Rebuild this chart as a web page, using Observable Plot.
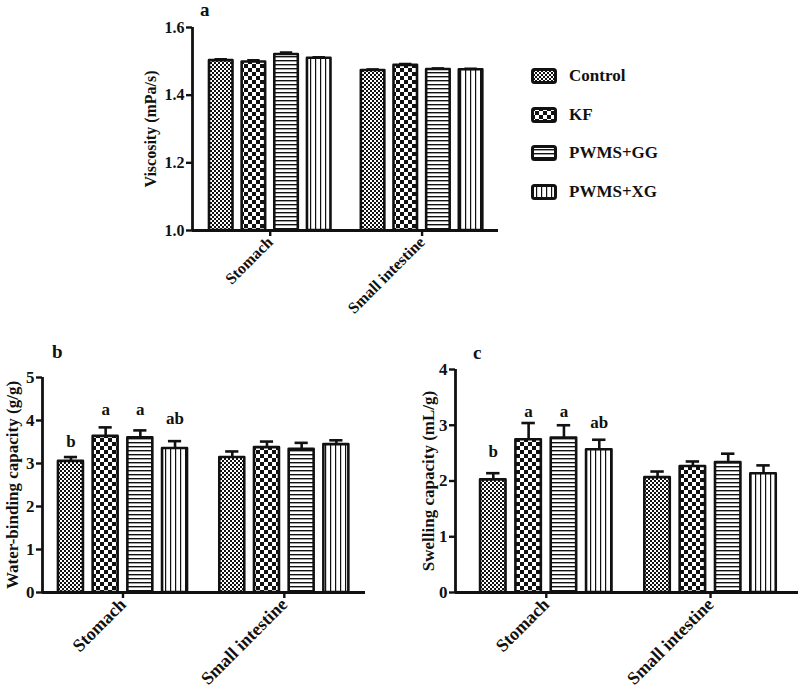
<!DOCTYPE html>
<html><head><meta charset="utf-8">
<script src="https://cdn.jsdelivr.net/npm/d3@7"></script>
<script src="https://cdn.jsdelivr.net/npm/@observablehq/plot@0.6"></script>
<style>
html,body{margin:0;padding:0;background:#fff;overflow:hidden;}
#fig{position:relative;width:800px;height:699px;font-family:"Liberation Serif","Times New Roman",serif;font-weight:bold;color:#111;}
.panel{position:absolute;}
.plab{position:absolute;font-size:19px;font-weight:bold;line-height:1;}
#legend{position:absolute;left:531px;top:57px;}
.li{display:flex;align-items:center;height:38.5px;font-size:17px;}
.li svg{margin-right:12px;}
</style></head>
<body><div id="fig"></div>
<script>
// ---------- data ----------
const treatments = ["Control", "KF", "PWMS+GG", "PWMS+XG"];
const sites = ["Stomach", "Small intestine"];

// panel a: viscosity (mPa/s), order: Stomach x4, Small intestine x4
const viscosity    = [1.502, 1.498, 1.520, 1.509, 1.473, 1.488, 1.476, 1.475];
const viscosityErr = [0.004, 0.005, 0.006, 0.003, 0.003, 0.004, 0.003, 0.003];
const viscosityTicks = [1.0, 1.2, 1.4, 1.6];

// panel b: water-binding capacity (g/g)
const waterBinding    = [3.05, 3.63, 3.60, 3.35, 3.14, 3.37, 3.33, 3.44];
const waterBindingErr = [0.10, 0.21, 0.17, 0.17, 0.14, 0.14, 0.15, 0.10];
const waterBindingTicks = [0, 1, 2, 3, 4, 5];
const waterBindingLetters = ["b", "a", "a", "ab"];
const waterBindingLetterY = [3.52, 4.26, 4.26, 4.05];

// panel c: swelling capacity (mL/g)
const swelling    = [2.02, 2.74, 2.77, 2.56, 2.06, 2.26, 2.33, 2.13];
const swellingErr = [0.12, 0.30, 0.23, 0.18, 0.11, 0.09, 0.16, 0.15];
const swellingTicks = [0, 1, 2, 3, 4];
const swellingLetters = ["b", "a", "a", "ab"];
const swellingLetterY = [2.53, 3.25, 3.25, 3.04];

// ---------- patterns ----------
const patIds = ["pat-control", "pat-kf", "pat-gg", "pat-xg"];
const patUrl = patIds.map(id => `url(#${id})`);
const defsSvg = d3.select("body").append("svg").attr("width", 0).attr("height", 0)
  .style("position", "absolute");
const defs = defsSvg.append("defs");
function pattern(id, w, h) {
  const p = defs.append("pattern").attr("id", id).attr("patternUnits", "userSpaceOnUse")
    .attr("width", w).attr("height", h);
  p.append("rect").attr("width", w).attr("height", h).attr("fill", "#fff");
  return p;
}
{
  const p = pattern("pat-control", 4, 4);
  p.append("rect").attr("x", 0).attr("y", 0).attr("width", 2).attr("height", 2).attr("fill", "#111");
  p.append("rect").attr("x", 2).attr("y", 2).attr("width", 2).attr("height", 2).attr("fill", "#111");
}
{
  const p = pattern("pat-kf", 8, 8);
  p.append("rect").attr("x", 0).attr("y", 0).attr("width", 4).attr("height", 4).attr("fill", "#111");
  p.append("rect").attr("x", 4).attr("y", 4).attr("width", 4).attr("height", 4).attr("fill", "#111");
}
{
  const p = pattern("pat-gg", 4, 4);
  p.append("rect").attr("x", 0).attr("y", 0).attr("width", 4).attr("height", 1.4).attr("fill", "#111");
}
{
  const p = pattern("pat-xg", 5, 4);
  p.append("rect").attr("x", 0).attr("y", 0).attr("width", 1.2).attr("height", 4).attr("fill", "#111");
}

// ---------- layout ----------
const G = 4.65;   // group offset (in bar pitches)
const W = 0.72;   // bar width (in bar pitches)
const CAP = 0.19; // half-width of error caps
const tickPos = sites.map((s, g) => g * G + 1.5 + W / 2);

const fig = document.getElementById("fig");

function buildRows(values, errs) {
  const rows = [];
  sites.forEach((site, g) => treatments.forEach((t, i) => {
    const k = g * treatments.length + i;
    const x1 = g * G + i;
    rows.push({site, treatment: t, ti: i, value: values[k], err: errs[k], x1, x2: x1 + W, xc: x1 + W / 2});
  }));
  return rows;
}

function panel(cfg) {
  const rows = buildRows(cfg.values, cfg.errs);
  const letterRows = (cfg.letters || []).map((l, i) => ({letter: l, ly: cfg.letterY[i], xc: rows[i].xc}));
  const base = cfg.yDomain[0];
  const chart = Plot.plot({
    width: cfg.width, height: cfg.height,
    marginLeft: cfg.ml, marginRight: cfg.mr, marginTop: cfg.mt, marginBottom: cfg.mb,
    style: {background: "transparent", overflow: "visible", fontFamily: "'Liberation Serif', 'Times New Roman', serif", fontWeight: "bold", fontSize: cfg.fs + "px", color: "#111", maxWidth: "none"},
    x: {domain: cfg.xDomain},
    y: {domain: cfg.yDomain},
    color: {type: "identity"},
    marks: [
      Plot.rect(rows, {x1: "x1", x2: "x2", y1: () => base, y2: "value", fill: d => patUrl[d.ti], stroke: "#111", strokeWidth: 2.6, strokeLinejoin: "round"}),
      Plot.ruleX(rows, {x: "xc", y1: "value", y2: d => d.value + d.err, stroke: "#111", strokeWidth: 2.6}),
      Plot.ruleY(rows, {y: d => d.value + d.err, x1: d => d.xc - CAP, x2: d => d.xc + CAP, stroke: "#111", strokeWidth: 2.6}),
      Plot.text(letterRows, {x: "xc", y: "ly", text: "letter", fontSize: cfg.fs, lineAnchor: "middle", fill: "#111"}),
      Plot.axisY({ticks: cfg.yTicks, tickFormat: cfg.yFormat, tickSize: 6, tickPadding: 2, strokeWidth: 2.4, fontSize: cfg.fs, label: null, stroke: "#111", fill: "#111"}),
      Plot.axisX({ticks: tickPos, tickFormat: v => sites[tickPos.indexOf(v)], tickRotate: -45, tickSize: 6, tickPadding: 3, strokeWidth: 2.4, fontSize: cfg.xfs, label: null, stroke: "#111", fill: "#111"}),
      Plot.ruleX([cfg.xDomain[0]], {stroke: "#111", strokeWidth: 2.8}),
      Plot.ruleY([base], {stroke: "#111", strokeWidth: 2.8}),
      Plot.text([cfg.yLabel], {frameAnchor: "left", dx: -cfg.titleOff, rotate: -90, text: d => d, fontSize: cfg.fs, textAnchor: "middle", lineAnchor: "middle", fill: "#111"})
    ]
  });
  const div = document.createElement("div");
  div.className = "panel";
  div.style.left = cfg.left + "px";
  div.style.top = cfg.top + "px";
  div.appendChild(chart);
  fig.appendChild(div);
}

// panel a
panel({
  values: viscosity, errs: viscosityErr, yDomain: [1.0, 1.6], yTicks: viscosityTicks,
  yFormat: d3.format(".1f"), yLabel: "Viscosity (mPa/s)",
  xDomain: [-0.52, 8.85],
  left: 100, top: 0, width: 420, height: 320, ml: 92, mr: 22, mt: 27, mb: 90,
  fs: 16, xfs: 16, titleOff: 42
});
// panel b
panel({
  values: waterBinding, errs: waterBindingErr, yDomain: [0, 5], yTicks: waterBindingTicks,
  yFormat: d3.format("d"), yLabel: "Water-binding capacity (g/g)",
  letters: waterBindingLetters, letterY: waterBindingLetterY,
  xDomain: [-0.46, 8.85],
  left: 0, top: 330, width: 390, height: 369, ml: 42, mr: 25, mt: 47, mb: 107,
  fs: 17, xfs: 18, titleOff: 30
});
// panel c
panel({
  values: swelling, errs: swellingErr, yDomain: [0, 4], yTicks: swellingTicks,
  yFormat: d3.format("d"), yLabel: "Swelling capacity (mL/g)",
  letters: swellingLetters, letterY: swellingLetterY,
  xDomain: [-0.71, 9.0],
  left: 400, top: 330, width: 400, height: 369, ml: 55, mr: 2, mt: 39, mb: 107,
  fs: 17, xfs: 18, titleOff: 27
});

// panel letters
[["a", 200, 0], ["b", 52, 342], ["c", 473, 343]].forEach(([t, x, y]) => {
  const d = document.createElement("div");
  d.className = "plab"; d.textContent = t;
  d.style.left = x + "px"; d.style.top = y + "px";
  fig.appendChild(d);
});

// legend
const legend = document.createElement("div");
legend.id = "legend";
treatments.forEach((t, i) => {
  const row = document.createElement("div");
  row.className = "li";
  const s = d3.create("svg").attr("width", 26).attr("height", 16);
  s.append("rect").attr("x", 1.5).attr("y", 1.5).attr("width", 23).attr("height", 13).attr("rx", 2)
    .attr("fill", patUrl[i]).attr("stroke", "#111").attr("stroke-width", 3);
  row.appendChild(s.node());
  const span = document.createElement("span");
  span.textContent = t;
  row.appendChild(span);
  legend.appendChild(row);
});
fig.appendChild(legend);
</script>
</body></html>
